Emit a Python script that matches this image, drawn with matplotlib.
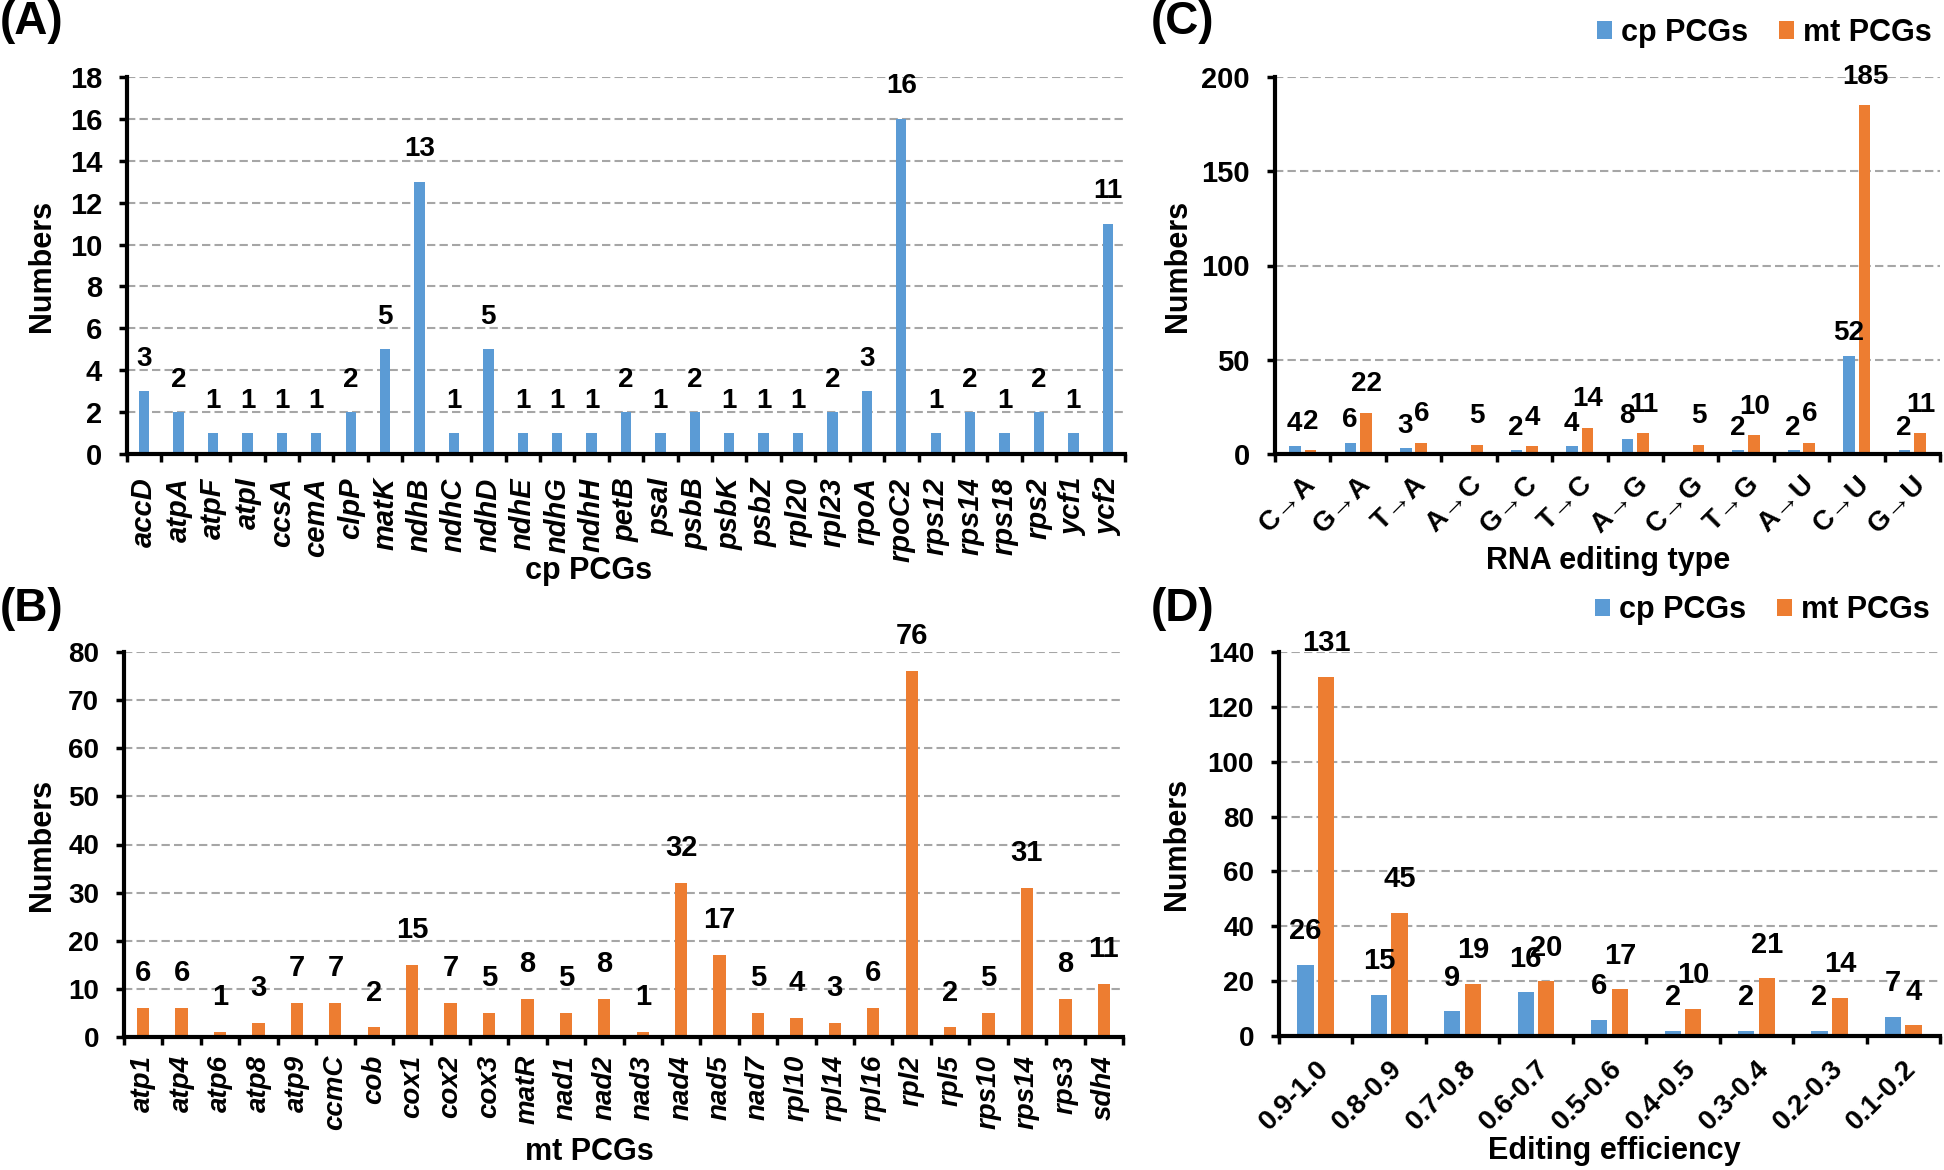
import numpy as np
import matplotlib.pyplot as plt

plt.rcParams['font.family'] = ['Liberation Sans', 'DejaVu Sans']
plt.rcParams['font.weight'] = 'bold'

# (A) cp PCGs
cp_genes = ['accD', 'atpA', 'atpF', 'atpI', 'ccsA', 'cemA', 'clpP', 'matK', 'ndhB', 'ndhC',
            'ndhD', 'ndhE', 'ndhG', 'ndhH', 'petB', 'psaI', 'psbB', 'psbK', 'psbZ', 'rpl20',
            'rpl23', 'rpoA', 'rpoC2', 'rps12', 'rps14', 'rps18', 'rps2', 'ycf1', 'ycf2']
cp_counts = [3, 2, 1, 1, 1, 1, 2, 5, 13, 1, 5, 1, 1, 1, 2, 1, 2, 1, 1, 1, 2, 3, 16, 1, 2, 1, 2, 1, 11]

# (B) mt PCGs
mt_genes = ['atp1', 'atp4', 'atp6', 'atp8', 'atp9', 'ccmC', 'cob', 'cox1', 'cox2', 'cox3',
            'matR', 'nad1', 'nad2', 'nad3', 'nad4', 'nad5', 'nad7', 'rpl10', 'rpl14', 'rpl16',
            'rpl2', 'rpl5', 'rps10', 'rps14', 'rps3', 'sdh4']
mt_counts = [6, 6, 1, 3, 7, 7, 2, 15, 7, 5, 8, 5, 8, 1, 32, 17, 5, 4, 3, 6, 76, 2, 5, 31, 8, 11]

# (C) RNA editing type
edit_types = ['C→A', 'G→A', 'T→A', 'A→C', 'G→C', 'T→C', 'A→G', 'C→G', 'T→G', 'A→U', 'C→U', 'G→U']
type_cp = [4, 6, 3, 0, 2, 4, 8, 0, 2, 2, 52, 2]
type_mt = [2, 22, 6, 5, 4, 14, 11, 5, 10, 6, 185, 11]

# (D) editing efficiency
eff_bins = ['0.9-1.0', '0.8-0.9', '0.7-0.8', '0.6-0.7', '0.5-0.6', '0.4-0.5', '0.3-0.4', '0.2-0.3', '0.1-0.2']
eff_cp = [26, 15, 9, 16, 6, 2, 2, 2, 7]
eff_mt = [131, 45, 19, 20, 17, 10, 21, 14, 4]

BLUE = '#5B9BD5'
ORANGE = '#ED7D31'
W, H = 1944, 1170

fig = plt.figure(figsize=(W / 100, H / 100), dpi=100)


def px_axes(l, t, r, b):
    return fig.add_axes([l / W, 1 - b / H, (r - l) / W, (b - t) / H])


def style(ax, n, ymax, ystep, tsize):
    ax.set_xlim(-0.5, n - 0.5)
    ax.set_ylim(0, ymax)
    ax.set_yticks(np.arange(0, ymax + 1, ystep))
    for s in ['top', 'right']:
        ax.spines[s].set_visible(False)
    for s in ['left', 'bottom']:
        ax.spines[s].set_linewidth(3)
    ax.yaxis.grid(True, color='#a6a6a6', linestyle=(0, (4, 2)), linewidth=1.5)
    ax.set_axisbelow(True)
    ax.set_xticks(np.arange(n + 1) - 0.5, minor=True)
    ax.tick_params(axis='x', which='major', length=0)
    ax.tick_params(axis='x', which='minor', length=6, width=2.5)
    ax.tick_params(axis='y', length=6, width=2.5, labelsize=tsize, pad=12)


def label_bars(ax, xs, vals, size, dy):
    for x, v in zip(xs, vals):
        if v == 0:
            continue
        ax.annotate(str(v), (x, v), xytext=(0, dy), textcoords='offset points',
                    ha='center', va='bottom', fontsize=size, fontweight='bold')


def axis_titles(ax, xlab, xpos, ypos, size=22):
    ax.set_xlabel(xlab, fontsize=size, fontweight='bold', va='center')
    ax.xaxis.set_label_coords(*xpos)
    ax.set_ylabel('Numbers', fontsize=size, fontweight='bold', va='center')
    ax.yaxis.set_label_coords(ypos, 0.5)


# ---- (A)
axA = px_axes(127, 77, 1125, 454)
x = np.arange(len(cp_genes))
axA.bar(x, cp_counts, width=0.3, color=BLUE)
style(axA, len(cp_genes), 18, 2, 21)
axA.set_xticks(x)
axA.set_xticklabels(cp_genes, rotation=90, fontsize=21, fontstyle='italic', fontweight='bold')
axA.tick_params(axis='x', which='major', pad=17)
label_bars(axA, x, cp_counts, 20, 14)
axis_titles(axA, 'cp PCGs', (0.462, -0.31), -0.085)

# ---- (B)
axB = px_axes(124, 652, 1123, 1037)
x = np.arange(len(mt_genes))
axB.bar(x, mt_counts, width=0.32, color=ORANGE)
style(axB, len(mt_genes), 80, 10, 20)
axB.set_xticks(x)
axB.set_xticklabels(mt_genes, rotation=90, fontsize=20, fontstyle='italic', fontweight='bold')
axB.tick_params(axis='x', which='major', pad=13)
label_bars(axB, x, mt_counts, 21, 15)
axis_titles(axB, 'mt PCGs', (0.466, -0.30), -0.082)

# ---- (C)
axC = px_axes(1275, 77, 1940, 454)
x = np.arange(len(edit_types))
bw = 0.21
axC.bar(x - 0.14, type_cp, width=bw, color=BLUE, label='cp PCGs')
axC.bar(x + 0.14, type_mt, width=bw, color=ORANGE, label='mt PCGs')
style(axC, len(edit_types), 200, 50, 21)
axC.set_xticks(x)
axC.set_xticklabels(edit_types, rotation=45, ha='right', rotation_mode='anchor',
                    fontsize=20, fontweight='bold')
axC.tick_params(axis='x', which='major', pad=12)
label_bars(axC, x - 0.15, type_cp, 20, 7)
label_bars(axC, x + 0.15, type_mt, 20, 11)
axis_titles(axC, 'RNA editing type', (0.501, -0.283), -0.146)
axC.legend(loc='center right', bbox_to_anchor=(0.988, 1.117), ncol=2, frameon=False,
           fontsize=22, handlelength=0.5, handleheight=0.5, handletextpad=0.3,
           columnspacing=1.0, borderaxespad=0, borderpad=0)

# ---- (D)
axD = px_axes(1279, 652, 1940, 1036)
x = np.arange(len(eff_bins))
axD.bar(x - 0.14, eff_cp, width=0.22, color=BLUE, label='cp PCGs')
axD.bar(x + 0.14, eff_mt, width=0.22, color=ORANGE, label='mt PCGs')
style(axD, len(eff_bins), 140, 20, 20)
axD.set_xticks(x)
axD.set_xticklabels(eff_bins, rotation=45, ha='right', rotation_mode='anchor',
                    fontsize=20, fontweight='bold')
axD.tick_params(axis='x', which='major', pad=14)
label_bars(axD, x - 0.14, eff_cp, 21, 14)
label_bars(axD, x + 0.14, eff_mt, 21, 14)
axis_titles(axD, 'Editing efficiency', (0.508, -0.30), -0.155)
axD.legend(loc='center right', bbox_to_anchor=(0.985, 1.109), ncol=2, frameon=False,
           fontsize=22, handlelength=0.5, handleheight=0.5, handletextpad=0.3,
           columnspacing=1.0, borderaxespad=0, borderpad=0)

# panel letters
for s, xx, yy in [('(A)', 0, 0), ('(B)', 0, 587), ('(C)', 1151, 0), ('(D)', 1151, 587)]:
    fig.text(xx / W, 1 - yy / H, s, fontsize=33, fontweight='bold', va='top', ha='left')

fig.savefig('out.png', dpi=100)
